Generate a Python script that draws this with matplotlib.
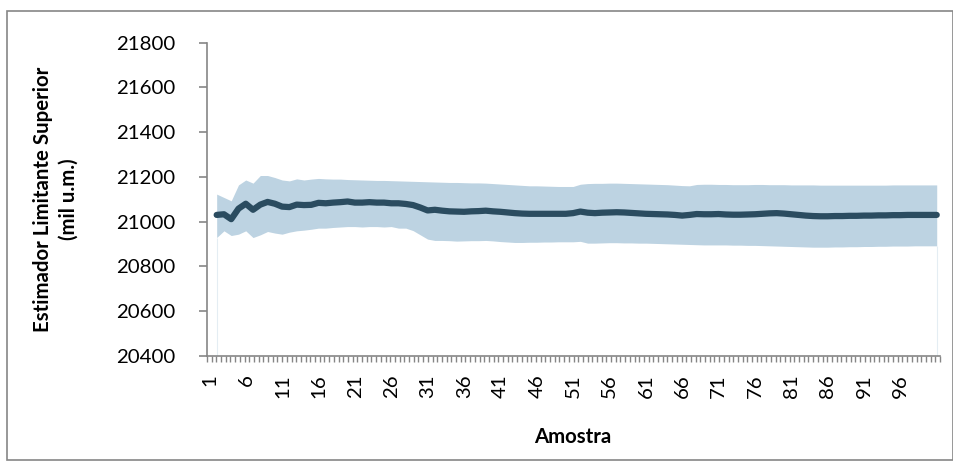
import matplotlib.pyplot as plt
from matplotlib.patches import Rectangle
from matplotlib.transforms import ScaledTranslation
import numpy as np

plt.rcParams['font.family'] = ['Lato', 'DejaVu Sans']

amostra = list(range(1, 101))

media = [21030, 21033, 21011, 21058, 21080, 21053, 21076, 21088, 21080, 21067,
         21065, 21076, 21074, 21075, 21084, 21082, 21085, 21087, 21090, 21085,
         21085, 21087, 21085, 21085, 21082, 21082, 21079, 21074, 21063, 21050,
         21053, 21049, 21046, 21045, 21044, 21046, 21047, 21049, 21046, 21044,
         21041, 21038, 21036, 21035, 21035, 21035, 21035, 21035, 21035, 21038,
         21045, 21040, 21038, 21040, 21041, 21042, 21041, 21039, 21037, 21035,
         21034, 21033, 21032, 21030, 21027, 21030, 21034, 21033, 21033, 21034,
         21032, 21031, 21031, 21032, 21033, 21035, 21037, 21038, 21036, 21033,
         21030, 21027, 21025, 21024, 21024, 21025, 21025, 21026, 21026, 21027,
         21027, 21028, 21028, 21029, 21029, 21030, 21030, 21030, 21030, 21030]

limite_sup = [21123, 21108, 21093, 21164, 21186, 21172, 21206, 21206, 21197, 21186,
              21182, 21191, 21186, 21190, 21193, 21191, 21190, 21190, 21188, 21187,
              21186, 21185, 21184, 21184, 21183, 21182, 21181, 21180, 21179, 21178,
              21177, 21176, 21175, 21175, 21174, 21173, 21173, 21172, 21170, 21168,
              21166, 21164, 21162, 21160, 21160, 21159, 21158, 21157, 21157, 21157,
              21167, 21170, 21171, 21171, 21172, 21172, 21171, 21170, 21169, 21168,
              21167, 21166, 21165, 21163, 21161, 21160, 21166, 21167, 21167, 21166,
              21166, 21165, 21165, 21165, 21166, 21166, 21165, 21165, 21165, 21164,
              21164, 21164, 21164, 21163, 21163, 21163, 21163, 21163, 21163, 21163,
              21163, 21163, 21163, 21164, 21164, 21164, 21164, 21164, 21164, 21164]

limite_inf = [20929, 20959, 20938, 20944, 20959, 20929, 20941, 20956, 20949, 20944,
              20953, 20959, 20962, 20966, 20971, 20971, 20974, 20976, 20978, 20978,
              20976, 20978, 20978, 20976, 20978, 20971, 20971, 20960, 20941, 20922,
              20916, 20916, 20915, 20913, 20914, 20915, 20915, 20916, 20914, 20911,
              20909, 20907, 20907, 20908, 20908, 20909, 20909, 20910, 20910, 20910,
              20912, 20904, 20904, 20905, 20906, 20906, 20905, 20905, 20904, 20904,
              20903, 20902, 20901, 20900, 20899, 20898, 20897, 20896, 20896, 20896,
              20896, 20895, 20895, 20894, 20894, 20893, 20892, 20891, 20890, 20889,
              20888, 20887, 20886, 20886, 20886, 20887, 20887, 20888, 20888, 20889,
              20889, 20890, 20890, 20891, 20891, 20891, 20892, 20892, 20892, 20892]

y_ticks = [20400, 20600, 20800, 21000, 21200, 21400, 21600, 21800]

fs = 14.7
fig = plt.figure(figsize=(9.54, 4.61), dpi=100)
ax = fig.add_axes([207 / 954, 1 - 356 / 461, (940 - 207) / 954, (356 - 42.5) / 461])

ax.fill_between(amostra, limite_inf, limite_sup, color='#bdd3e2', linewidth=0)
ax.vlines([amostra[0], amostra[-1]], y_ticks[0], [limite_inf[0], limite_inf[-1]],
          color='#e4edf3', linewidth=0.8)
ax.plot(amostra, media, color='#2b4c60', linewidth=4.5, solid_capstyle='round',
        solid_joinstyle='round')

xmin, xmax = -0.33, 100.45
ax.set_xlim(xmin, xmax)
ax.set_ylim(y_ticks[0], y_ticks[-1])
ax.set_yticks(y_ticks)
ax.set_xticks(amostra[::5])
ax.set_xticklabels([str(a) for a in amostra[::5]], rotation=90, va='top')
# dense little marks along the category axis, as in the original
ax.set_xticks(np.linspace(xmin, xmax, 157), minor=True)

for s in ['top', 'right']:
    ax.spines[s].set_visible(False)
for s in ['left', 'bottom']:
    ax.spines[s].set_color('#868686')
    ax.spines[s].set_linewidth(1.2)

ax.tick_params(axis='y', length=6, width=1.2, color='#868686', labelsize=fs, pad=17)
ax.tick_params(axis='x', which='major', length=0, labelsize=fs, pad=13)
ax.tick_params(axis='x', which='minor', length=4.5, width=1, color='#868686')

# Excel puts the rotated labels a bit left of the points
shift = ScaledTranslation(-7 / 100, 0, fig.dpi_scale_trans)
for lbl in ax.get_xticklabels():
    lbl.set_transform(lbl.get_transform() + shift)

fig.text(573 / 954, 1 - 437 / 461, 'Amostra', fontsize=fs, fontweight='bold',
         ha='center', va='center')
fig.text(56 / 954, 1 - 199 / 461, 'Estimador Limitante Superior\n(mil u.m.)',
         fontsize=fs, fontweight='bold', rotation=90, ha='center', va='center',
         multialignment='center', linespacing=1.35)

fig.patches.append(Rectangle((7 / 954, 1 / 461), 946 / 954, 449 / 461,
                             transform=fig.transFigure, fill=False,
                             edgecolor='#868686', linewidth=1.2))

fig.savefig('out.png', dpi=100)
